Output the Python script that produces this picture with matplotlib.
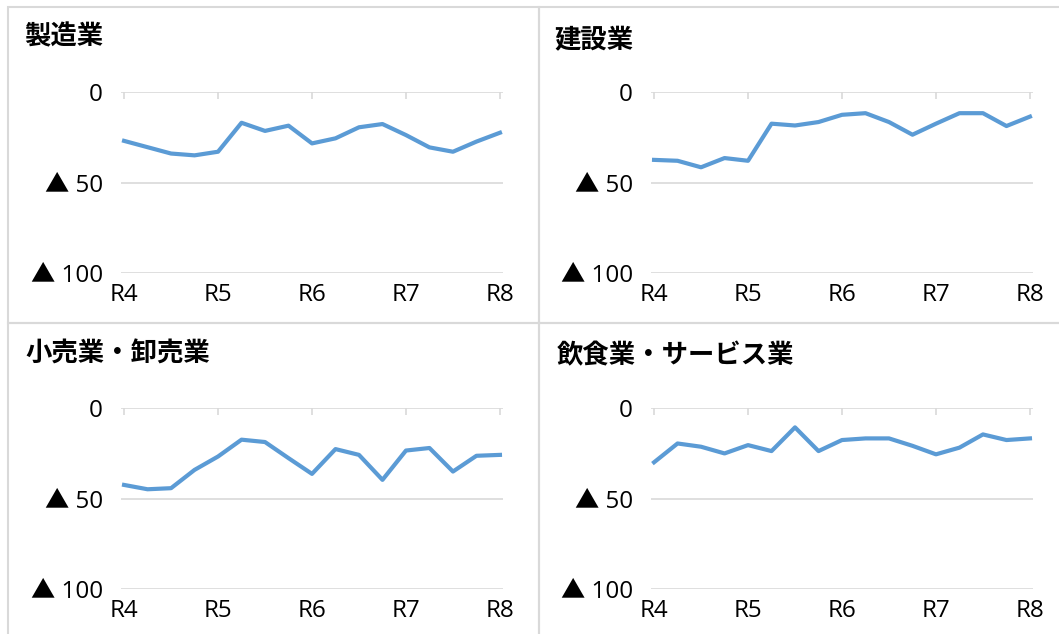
import matplotlib
matplotlib.use("Agg")
import matplotlib.pyplot as plt
from matplotlib.patches import Rectangle

plt.rcParams['font.family'] = ['Noto Sans CJK JP', 'DejaVu Sans']

# 四半期ごとの値 (R4 〜 R8, 17点)
titles = ['製造業', '建設業', '小売業・卸売業', '飲食業・サービス業']
manufacturing = [-27, -30.5, -34, -35, -33, -17, -21.5, -18.6, -28.4, -25.6,
                 -19.5, -17.7, -23.8, -30.6, -33, -27.4, -22.5]
construction = [-37.5, -38, -41.6, -36.5, -38, -17.5, -18.5, -16.6, -12.6, -11.7,
                -16.6, -23.6, -17.5, -11.7, -11.7, -18.8, -13.6]
retail = [-42.5, -44.9, -44.3, -34.2, -26.8, -17.5, -18.8, -27.7, -36.4, -22.7,
          -25.9, -39.7, -23.5, -22.1, -35.1, -26.4, -25.9]
service = [-30, -19.6, -21.4, -25.1, -20.5, -23.8, -10.7, -23.8, -17.7, -16.8,
           -16.8, -20.9, -25.6, -21.9, -14.6, -17.7, -16.8]
series = [manufacturing, construction, retail, service]
xlabels = ['R4', 'R5', 'R6', 'R7', 'R8']
yticks = [0, -50, -100]
ylabels = ['0', '▲ 50', '▲ 100']

W, H = 1059, 634
fig = plt.figure(figsize=(W / 100, H / 100), dpi=100)

grid_c = '#d9d9d9'
line_c = '#5b9bd5'
tick_font = ['Open Sans', 'Noto Sans CJK JP', 'DejaVu Sans']

# panel frames (pixels: x0, y0, x1, y1)
frames = [(8, 7, 539, 323), (539, 7, 1062, 323), (8, 323, 539, 640), (539, 323, 1062, 640)]
for x0, y0, x1, y1 in frames:
    fig.patches.append(Rectangle((x0 / W, 1 - y1 / H), (x1 - x0) / W, (y1 - y0) / H,
                                 transform=fig.transFigure, fill=False,
                                 edgecolor=grid_c, linewidth=1.5))

# axes boxes (pixels: left, top(0 line), right, bottom(-100 line))
boxes = [(121, 92, 503, 273), (651, 92, 1033, 273), (121, 408, 503, 589), (651, 408, 1033, 589)]
title_pos = [(24, 37), (554, 41), (25, 354), (557, 356)]

for i in range(4):
    l, t, r, b = boxes[i]
    ax = fig.add_axes([l / W, 1 - b / H, (r - l) / W, (b - t) / H])
    x = list(range(len(series[i])))
    ax.plot(x, series[i], color=line_c, linewidth=3.0, solid_joinstyle='round')
    ax.set_xlim(-0.13, 16.13)
    ax.set_ylim(-100, 0)
    ax.set_yticks(yticks)
    ax.set_yticklabels(ylabels, fontsize=17.5, family=tick_font)
    ax.set_xticks([0, 4, 8, 12, 16])
    ax.set_xticklabels(xlabels, fontsize=17.5, family=tick_font)
    for s in ax.spines.values():
        s.set_visible(False)
    for yv in yticks:
        ax.axhline(yv, color=grid_c, linewidth=1.2, zorder=0)
    ax.tick_params(axis='y', length=0, pad=13)
    ax.tick_params(axis='x', top=True, bottom=False, labeltop=False, labelbottom=True,
                   direction='in', length=5, color=grid_c, width=1.2, pad=7)
    ax.patch.set_alpha(0)
    tx, ty = title_pos[i]
    fig.text(tx / W, 1 - ty / H, titles[i], fontsize=19, fontweight='bold',
             ha='left', va='center')

fig.savefig('out.png', dpi=100)
